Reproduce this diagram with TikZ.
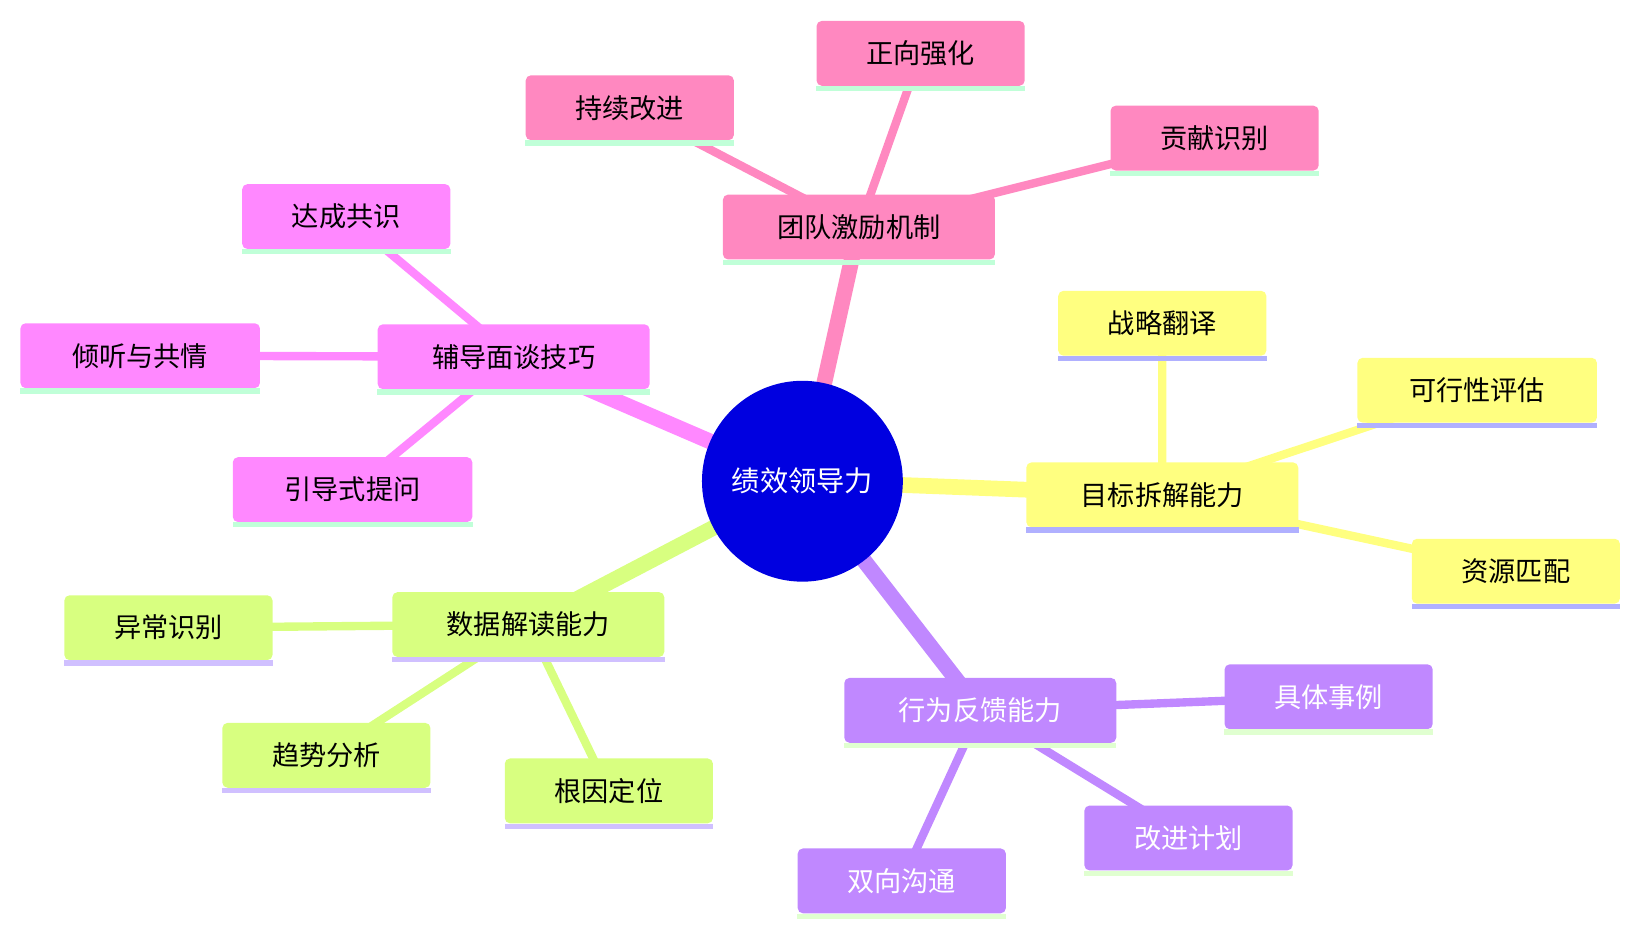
\documentclass[tikz,border=0pt]{standalone}
\usepackage{fontspec}
\setmainfont{Noto Sans CJK SC}
\begin{document}
\begin{tikzpicture}[x=1pt,y=-1pt,
  box/.style={rounded corners=5pt,minimum height=62pt,inner sep=0pt,font=\fontsize{26}{30}\selectfont},
  main/.style={box,minimum width=260pt},
  leaf/.style={box,minimum width=199pt},
  wleaf/.style={box,minimum width=229pt},
  thick1/.style={line width=15pt},
  thin1/.style={line width=8pt}]
\useasboundingbox (0,0) rectangle (1560,890);
\definecolor{pk}{HTML}{FF88C0}\definecolor{mg}{HTML}{FF88FF}
\definecolor{yl}{HTML}{FFFF80}\definecolor{lm}{HTML}{D8FF80}
\definecolor{pu}{HTML}{C088FF}\definecolor{mint}{HTML}{C0FFD8}
\definecolor{lav}{HTML}{B0B0FF}\definecolor{lav2}{HTML}{D0C0FF}
\definecolor{lg}{HTML}{E0FFD0}\definecolor{cb}{HTML}{0000E0}
% coordinates
\coordinate (c) at (767,460);
\coordinate (t) at (821,217); \coordinate (t1) at (880,51); \coordinate (t2) at (602,103); \coordinate (t3) at (1161,132);
\coordinate (f) at (491,341); \coordinate (f1) at (331,207); \coordinate (f2) at (134,340); \coordinate (f3) at (337,468);
\coordinate (g) at (1111,473); \coordinate (g1) at (1111,309); \coordinate (g2) at (1412,373); \coordinate (g3) at (1449,546);
\coordinate (d) at (505,597); \coordinate (d1) at (161,600); \coordinate (d2) at (312,722); \coordinate (d3) at (582,756);
\coordinate (b) at (937,679); \coordinate (b1) at (1270,666); \coordinate (b2) at (1136,801); \coordinate (b3) at (862,842);
% edges
\draw[pk,thick1] (c)--(t); \draw[pk,thin1] (t)--(t1) (t)--(t2) (t)--(t3);
\draw[mg,thick1] (c)--(f); \draw[mg,thin1] (f)--(f1) (f)--(f2) (f)--(f3);
\draw[yl,thick1] (c)--(g); \draw[yl,thin1] (g)--(g1) (g)--(g2) (g)--(g3);
\draw[lm,thick1] (c)--(d); \draw[lm,thin1] (d)--(d1) (d)--(d2) (d)--(d3);
\draw[pu,thick1] (c)--(b); \draw[pu,thin1] (b)--(b1) (b)--(b2) (b)--(b3);
% boxes
\newcommand{\bx}[6]{% name, coord, style, fill, underline, text colour/text
  \node[#3,fill=#4,text=#6] (#1) at (#2) {\phantom{x}};
  \fill[#5] (#1.south west) ++(0,0) rectangle ([yshift=-5pt]#1.south east);}
\newcommand{\mk}[7]{\node[#3,fill=#4,text=#6] (#1) at (#2) {#7};
  \fill[#5] (#1.south west) rectangle ([yshift=-5pt]#1.south east);}
\mk{nt}{t}{main}{pk}{mint}{black}{团队激励机制}
\mk{nt1}{t1}{leaf}{pk}{mint}{black}{正向强化}
\mk{nt2}{t2}{leaf}{pk}{mint}{black}{持续改进}
\mk{nt3}{t3}{leaf}{pk}{mint}{black}{贡献识别}
\mk{nf}{f}{main}{mg}{mint}{black}{辅导面谈技巧}
\mk{nf1}{f1}{leaf}{mg}{mint}{black}{达成共识}
\mk{nf2}{f2}{wleaf}{mg}{mint}{black}{倾听与共情}
\mk{nf3}{f3}{wleaf}{mg}{mint}{black}{引导式提问}
\mk{ng}{g}{main}{yl}{lav}{black}{目标拆解能力}
\mk{ng1}{g1}{leaf}{yl}{lav}{black}{战略翻译}
\mk{ng2}{g2}{wleaf}{yl}{lav}{black}{可行性评估}
\mk{ng3}{g3}{leaf}{yl}{lav}{black}{资源匹配}
\mk{nd}{d}{main}{lm}{lav2}{black}{数据解读能力}
\mk{nd1}{d1}{leaf}{lm}{lav2}{black}{异常识别}
\mk{nd2}{d2}{leaf}{lm}{lav2}{black}{趋势分析}
\mk{nd3}{d3}{leaf}{lm}{lav2}{black}{根因定位}
\mk{nb}{b}{main}{pu}{lg}{white}{行为反馈能力}
\mk{nb1}{b1}{leaf}{pu}{lg}{white}{具体事例}
\mk{nb2}{b2}{leaf}{pu}{lg}{white}{改进计划}
\mk{nb3}{b3}{leaf}{pu}{lg}{white}{双向沟通}
\node[circle,fill=cb,minimum size=192pt,inner sep=0pt,text=white,font=\fontsize{27}{30}\selectfont] (nc) at (c) {绩效领导力};
\end{tikzpicture}
\end{document}
